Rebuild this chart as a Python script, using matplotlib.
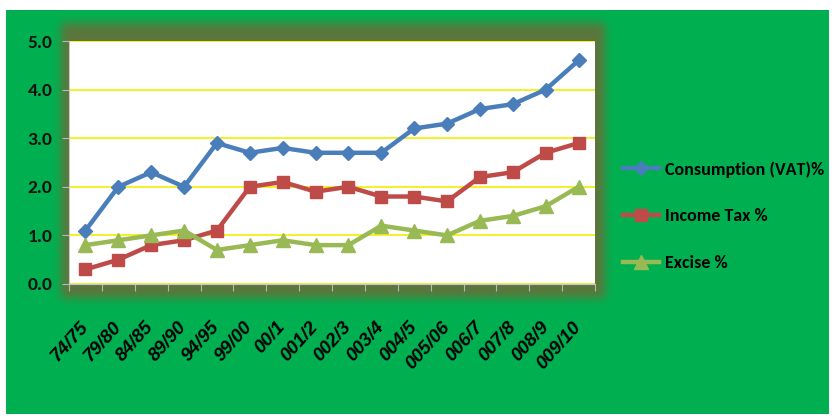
import numpy as np
import matplotlib
matplotlib.use("Agg")
import matplotlib.pyplot as plt
from matplotlib.ticker import FixedLocator

# ---- data -------------------------------------------------------------
periods = ["74/75", "79/80", "84/85", "89/90", "94/95", "99/00", "00/1",
           "001/2", "002/3", "003/4", "004/5", "005/06", "006/7", "007/8",
           "008/9", "009/10"]
vat = [1.1, 2.0, 2.3, 2.0, 2.9, 2.7, 2.8, 2.7, 2.7, 2.7, 3.2, 3.3, 3.6, 3.7, 4.0, 4.6]
income_tax = [0.3, 0.5, 0.8, 0.9, 1.1, 2.0, 2.1, 1.9, 2.0, 1.8, 1.8, 1.7, 2.2, 2.3, 2.7, 2.9]
excise = [0.8, 0.9, 1.0, 1.1, 0.7, 0.8, 0.9, 0.8, 0.8, 1.2, 1.1, 1.0, 1.3, 1.4, 1.6, 2.0]
series_names = ["Consumption (VAT)%", "Income Tax %", "Excise %"]
y_ticks = [0.0, 1.0, 2.0, 3.0, 4.0, 5.0]

W, H = 836, 418
NUM_FONT = ["Carlito", "DejaVu Sans"]

fig = plt.figure(figsize=(W / 100, H / 100), dpi=100)
fig.patch.set_facecolor("white")

# ---- background: green panel with a soft olive glow around the plot ----
bg = np.ones((H, W, 3))
green = np.array([0, 176, 80]) / 255
olive = np.array([92, 118, 60]) / 255
bg[10:414, 6:829] = green

mask = np.zeros((H, W))
mask[23:298, 61:605] = 1.0
sigma = 4.5
r = np.arange(-14, 15)
k = np.exp(-r ** 2 / (2 * sigma ** 2))
k /= k.sum()
mask = np.apply_along_axis(lambda v: np.convolve(v, k, mode="same"), 1, mask)
mask = np.apply_along_axis(lambda v: np.convolve(v, k, mode="same"), 0, mask)
mask = np.clip(mask, 0, 1)[..., None]
region = np.zeros((H, W, 1))
region[10:414, 6:829] = 1
bg = bg * (1 - mask * region) + olive * mask * region
fig.figimage(bg, 0, 0, zorder=-10, origin="upper")

# ---- plot area ---------------------------------------------------------
left, right, top, bottom = 69, 595, 41, 284
ax = fig.add_axes([left / W, 1 - bottom / H, (right - left) / W, (bottom - top) / H])
ax.set_facecolor("white")

x = np.arange(len(periods))
styles = [
    (vat, "#4A7EBB", "D", 7.3),
    (income_tax, "#BE4B48", "s", 8.8),
    (excise, "#98B954", "^", 10.5),
]
for (vals, col, mk, ms), name in zip(styles, series_names):
    ax.plot(x, vals, color=col, lw=3.2, marker=mk, ms=ms, mfc=col, mec=col,
            label=name, zorder=3, clip_on=False)

ax.set_xlim(-0.5, len(periods) - 0.5)
ax.set_ylim(0, 5)
ax.set_yticks(y_ticks)
ax.set_yticklabels([f"{v:.1f}" for v in y_ticks], family=NUM_FONT,
                   fontsize=14, fontweight="bold", color="#111111")
ax.yaxis.grid(True, color="#F2EE00", lw=1.2, zorder=1)
ax.set_axisbelow(True)

ax.set_xticks(x)
ax.set_xticklabels(periods, rotation=48, ha="right", va="center",
                   rotation_mode="anchor", fontsize=13.5, fontweight="bold",
                   fontstyle="italic", family="Liberation Sans")
ax.xaxis.set_minor_locator(FixedLocator(np.arange(-0.5, len(periods), 1.0)))
ax.tick_params(axis="x", which="major", length=0, pad=29)
ax.tick_params(axis="x", which="minor", length=5, color="#B8B8B8", width=0.8)
ax.tick_params(axis="y", length=5, color="#B8B8B8", width=0.8, pad=7)

for s in ["top", "right"]:
    ax.spines[s].set_visible(False)
ax.spines["bottom"].set_color("#C8C8C8")
ax.spines["left"].set_color("#C8C8C8")
ax.spines["bottom"].set_linewidth(0.8)
ax.spines["left"].set_linewidth(0.8)

# ---- legend ------------------------------------------------------------
fig.legend(loc="center left", bbox_to_anchor=(623 / W, 1 - 216 / H),
           frameon=False, borderpad=0, borderaxespad=0, handlelength=2.0,
           handletextpad=0.3, labelspacing=1.7,
           prop={"family": NUM_FONT, "size": 13, "weight": "bold"},
           labelcolor="#000000")

fig.savefig("out.png", dpi=100)
